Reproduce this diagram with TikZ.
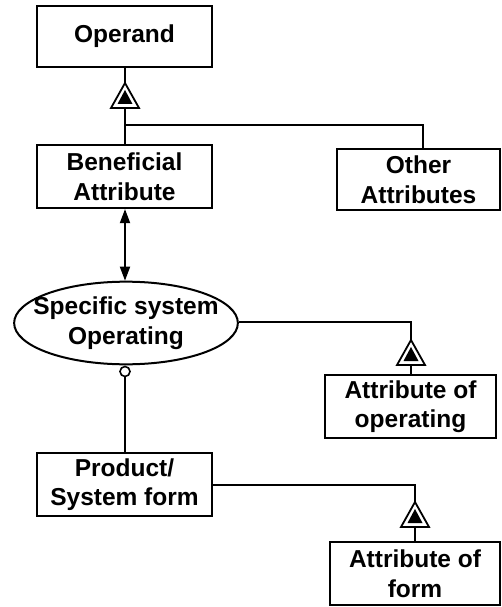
\documentclass[tikz,border=0pt]{standalone}
\usepackage{fontspec}
\setmainfont{Liberation Sans}
\usetikzlibrary{shapes.geometric,arrows.meta}
\begin{document}
\begin{tikzpicture}[x=1pt,y=-1pt,
  every node/.style={font=\bfseries\fontsize{24.5}{29.5}\selectfont, align=center, inner sep=0pt},
  thing/.style={draw, line width=2.2pt, rectangle},
  proc/.style={draw, line width=2pt, ellipse, inner xsep=-13.5pt, inner ysep=3pt},
  link/.style={line width=1.8pt},
  exhibit/.pic={
    \draw[line width=1.8pt, fill=white, line join=miter] (0,0) -- (-14,25) -- (14,25) -- cycle;
    \fill (0,7) -- (-7.5,21) -- (7.5,21) -- cycle;
  }]
\useasboundingbox (0,0) rectangle (502,607);

% objects and the process
\node[thing, minimum width=175pt, minimum height=61pt] (operand) at (124.5,36.5) {Operand};
\node[thing, minimum width=175pt, minimum height=63pt] (benef) at (124.5,176.5) {Beneficial\\Attribute};
\node[thing, minimum width=163pt, minimum height=61pt] (other) at (418.5,179.5) {Other\\Attributes};
\node[proc] (proc) at (126,323) {Specific system\\Operating};
\node[thing, minimum width=171pt, minimum height=63pt] (attop) at (410.5,406.5) {Attribute of\\operating};
\node[thing, minimum width=175pt, minimum height=63pt] (form) at (124.5,484.5) {Product/\\System form};
\node[thing, minimum width=170pt, minimum height=63pt] (attform) at (415,573.5) {Attribute of\\form};

% exhibition links of the operand
\coordinate (j1) at (125,125);
\coordinate (c1) at (423,125);
\draw[link] (operand.south -| j1) -- (benef.north -| j1);
\draw[link] (j1) -- (c1) -- (other.north -| c1);
\pic at (125,83) {exhibit};

% effect link between the attribute and the process
\draw[link, {Triangle[length=14pt,width=10pt]}-{Triangle[length=14pt,width=10pt]}] (benef.south -| j1) -- (proc.north -| j1);

% instrument link from the form to the process
\draw[link] (form.north -| j1) -- (125,376.5);
\draw[line width=1.6pt, fill=white] (125,371.5) circle (5pt);

% exhibition of the process
\coordinate (c2) at (411,322);
\draw[link] (proc.east |- c2) -- (c2) -- (attop.north -| c2);
\pic at (411,340) {exhibit};

% exhibition of the form
\coordinate (c3) at (415,485);
\draw[link] (form.east |- c3) -- (c3) -- (attform.north -| c3);
\pic at (415,502) {exhibit};
\end{tikzpicture}
\end{document}
